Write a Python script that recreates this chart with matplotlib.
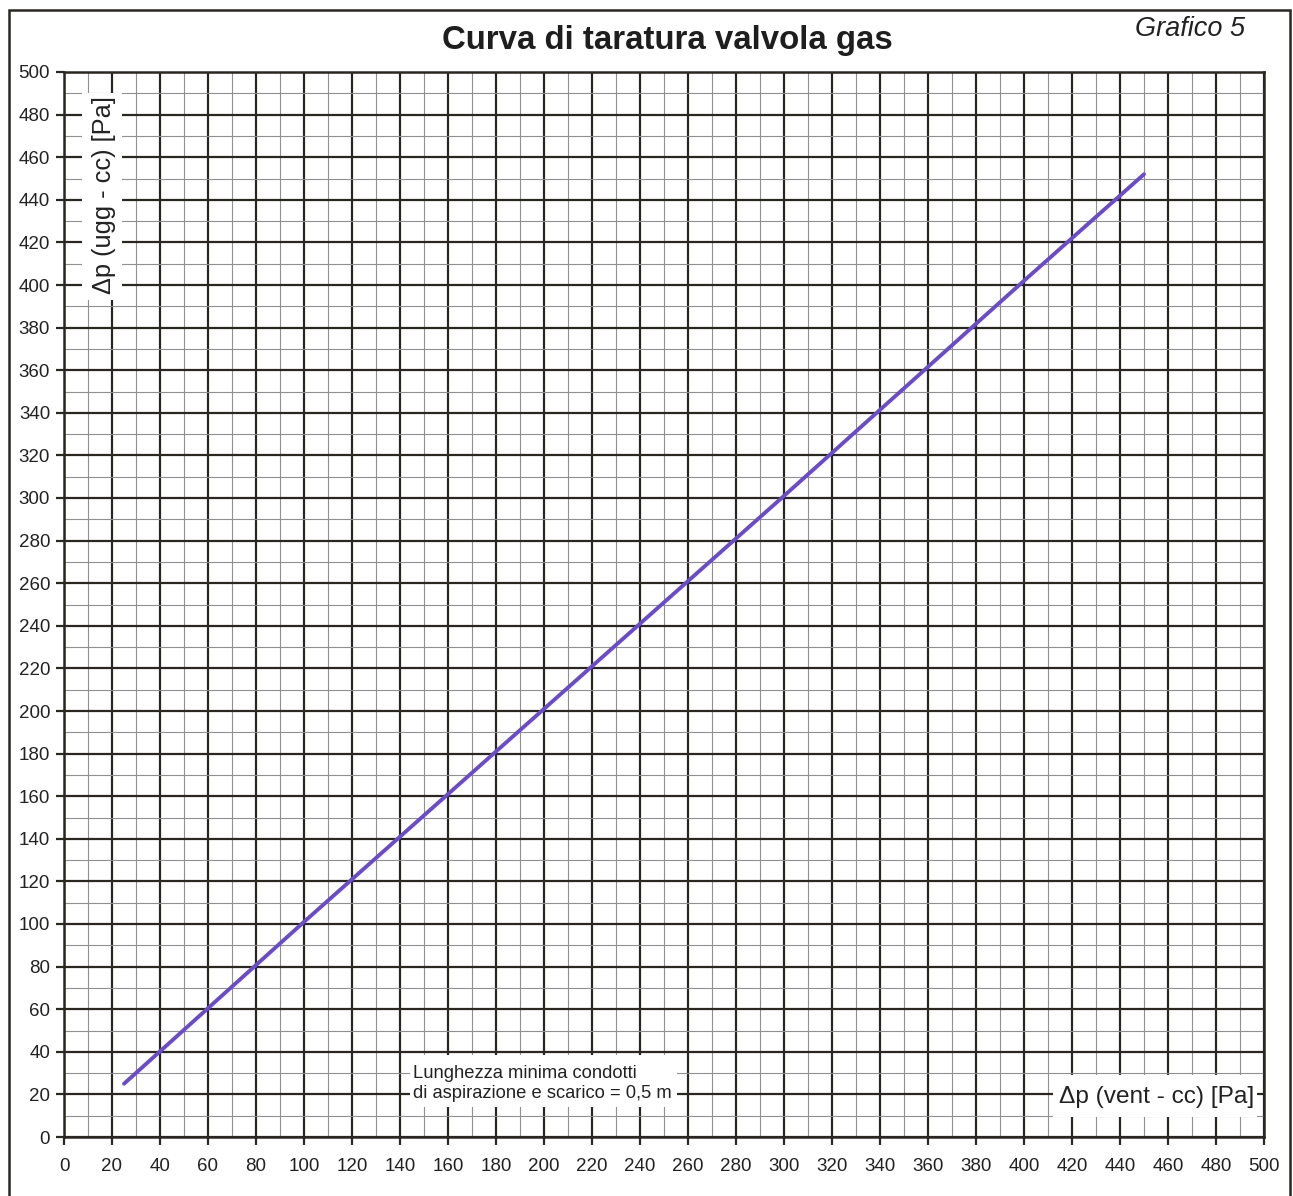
import matplotlib
matplotlib.use("Agg")
import matplotlib.pyplot as plt
from matplotlib.patches import Rectangle

plt.rcParams['font.family'] = ['Liberation Sans', 'DejaVu Sans']

# Calibration curve: gas-valve pressure difference vs fan pressure difference
dp_vent = [25, 100, 200, 300, 400, 450]
dp_ugg = [25, 101, 201, 301, 402, 452]

x_ticks = list(range(0, 501, 20))
y_ticks = list(range(0, 501, 20))
minor_ticks = list(range(10, 500, 20))

title = "Curva di taratura valvola gas"
tag = "Grafico 5"
x_label = "\u0394p (vent - cc) [Pa]"
y_label = "\u0394p (ugg - cc) [Pa]"
note = "Lunghezza minima condotti\ndi aspirazione e scarico = 0,5 m"

W, H = 1293, 1196
fig = plt.figure(figsize=(W / 100, H / 100), dpi=100)
fig.patch.set_facecolor("white")

ax = fig.add_axes([64 / W, 1 - 1137 / H, 1200 / W, 1065 / H])
ax.set_xlim(0, 500)
ax.set_ylim(0, 500)

major_col = "#2a2722"
minor_col = "#909090"
text_col = "#222222"

ax.set_xticks(x_ticks)
ax.set_yticks(y_ticks)
ax.set_xticks(minor_ticks, minor=True)
ax.set_yticks(minor_ticks, minor=True)
ax.set_axisbelow(True)
ax.grid(which="major", color=major_col, linewidth=1.6)
ax.grid(which="minor", color=minor_col, linewidth=0.8)

ax.tick_params(which="major", direction="out", length=6, width=1.6,
               color=major_col, labelsize=13.5, labelcolor=text_col)
ax.tick_params(axis="x", which="major", pad=9)
ax.tick_params(axis="y", which="major", pad=4)
ax.tick_params(which="minor", length=0)
for s in ax.spines.values():
    s.set_color(major_col)
    s.set_linewidth(1.8)

ax.plot(dp_vent, dp_ugg, color="#6a4cc6", linewidth=2.8,
        solid_capstyle="round", zorder=5)

# White patches that clear the grid behind the in-plot labels
for (x0, y0, w, h) in [(7.5, 393.0, 16.5, 97.0),
                       (412.0, 9.5, 85.0, 19.5),
                       (144.2, 14.1, 111.2, 24.4)]:
    ax.add_patch(Rectangle((x0, y0), w, h, facecolor="white",
                           edgecolor="none", zorder=3))

ax.text(16.5, 488.5, y_label, rotation=90, ha="center", va="top",
        fontsize=18.3, color=text_col, zorder=4)
ax.text(455.4, 18.8, x_label, ha="center", va="center",
        fontsize=17.6, color=text_col, zorder=4)
ax.text(145.4, 25.3, note, ha="left", va="center", fontsize=13.2,
        color=text_col, linespacing=1.22, zorder=4)

fig.text(667 / W, 1 - 41 / H, title, ha="center", va="center",
         fontsize=23.8, fontweight="bold", color="#1e1e1e")
fig.text(1190 / W, 1 - 29 / H, tag, ha="center", va="center",
         fontsize=19.5, fontstyle="italic", color=text_col)

# Outer frame of the sheet
fig.add_artist(Rectangle((9 / W, -0.02), (1290 - 9) / W, 1.02 - 10 / H,
                         transform=fig.transFigure, fill=False,
                         edgecolor=major_col, linewidth=1.8))

fig.savefig("out.png", dpi=100, facecolor="white")
